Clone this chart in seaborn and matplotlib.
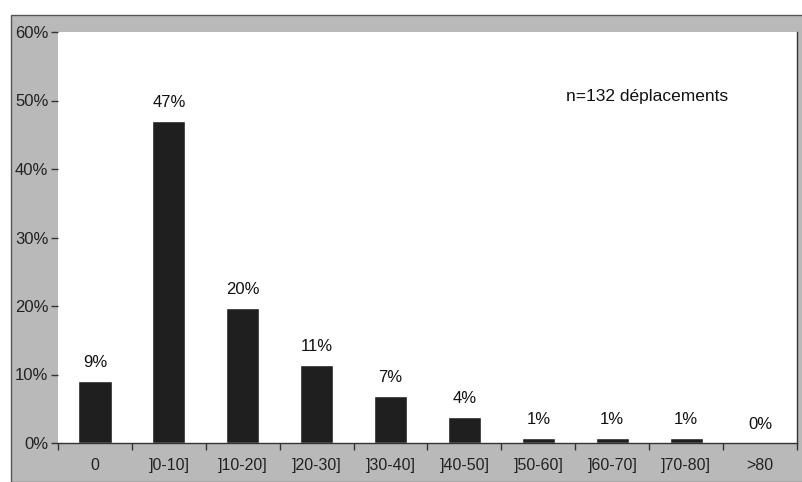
import matplotlib
matplotlib.use("Agg")
import matplotlib.pyplot as plt
import matplotlib.patches as mpatches
from matplotlib.ticker import PercentFormatter
import numpy as np
import pandas as pd
import seaborn as sns

# Trip distance classes and number of trips in each
categories = ["0", "]0-10]", "]10-20]", "]20-30]", "]30-40]",
              "]40-50]", "]50-60]", "]60-70]", "]70-80]", ">80"]
counts = [12, 62, 26, 15, 9, 5, 1, 1, 1, 0]
y_ticks = [0.0, 0.1, 0.2, 0.3, 0.4, 0.5, 0.6]
note = "n=132 déplacements"

total = sum(counts)
shares = [c / total for c in counts]
df = pd.DataFrame({"classe": categories, "part": shares})

sns.set_theme(style="white")
plt.rcParams["font.family"] = ["Liberation Sans", "DejaVu Sans"]

fig = plt.figure(figsize=(8.03, 4.82), dpi=100, facecolor="white")

# grey chart area behind the white plot area
frame = mpatches.Rectangle((11 / 803, 0), 1 - 11 / 803, 1 - 15 / 482,
                           transform=fig.transFigure, facecolor="#b9b9b9",
                           edgecolor="#555555", linewidth=1.0, zorder=0)
fig.patches.append(frame)

ax = fig.add_axes([58 / 803, 39 / 482, (797 - 58) / 803, (443 - 32) / 482])
ax.set_facecolor("white")
ax.set_zorder(1)

sns.barplot(data=df, x="classe", y="part", order=categories,
            color="#1f1f1f", width=0.45, saturation=1, ax=ax)

for i, s in enumerate(shares):
    ax.annotate(f"{round(s * 100):.0f}%", (i, s), xytext=(0, 8),
                textcoords="offset points", ha="center", va="bottom",
                fontsize=12, color="#111111")

ax.text(0.797, 0.842, note, transform=ax.transAxes, ha="center",
        va="center", fontsize=12.5, color="#111111")

ax.set_ylim(0, 0.6)
ax.set_yticks(y_ticks)
ax.yaxis.set_major_formatter(PercentFormatter(1.0, decimals=0))
ax.set_xlim(-0.5, len(categories) - 0.5)
ax.set_xlabel("")
ax.set_ylabel("")

# x ticks sit between the classes, labels at the class centres
ax.set_xticks(np.arange(len(categories)))
ax.set_xticklabels(categories)
ax.set_xticks(np.arange(len(categories) + 1) - 0.5, minor=True)
ax.tick_params(axis="x", which="major", bottom=False, length=0, pad=11,
               labelsize=11.5, labelcolor="#222222")
ax.tick_params(axis="x", which="minor", bottom=True, length=5, width=1,
               color="#333333", direction="out")
ax.tick_params(axis="y", which="major", left=True, length=5, width=1,
               color="#333333", direction="out", pad=2,
               labelsize=12, labelcolor="#222222")

ax.spines["top"].set_visible(False)
ax.spines["left"].set_visible(False)
for side in ["bottom", "right"]:
    ax.spines[side].set_visible(True)
    ax.spines[side].set_color("#333333")
    ax.spines[side].set_linewidth(1.0)

fig.savefig("out.png", dpi=100, facecolor=fig.get_facecolor())
